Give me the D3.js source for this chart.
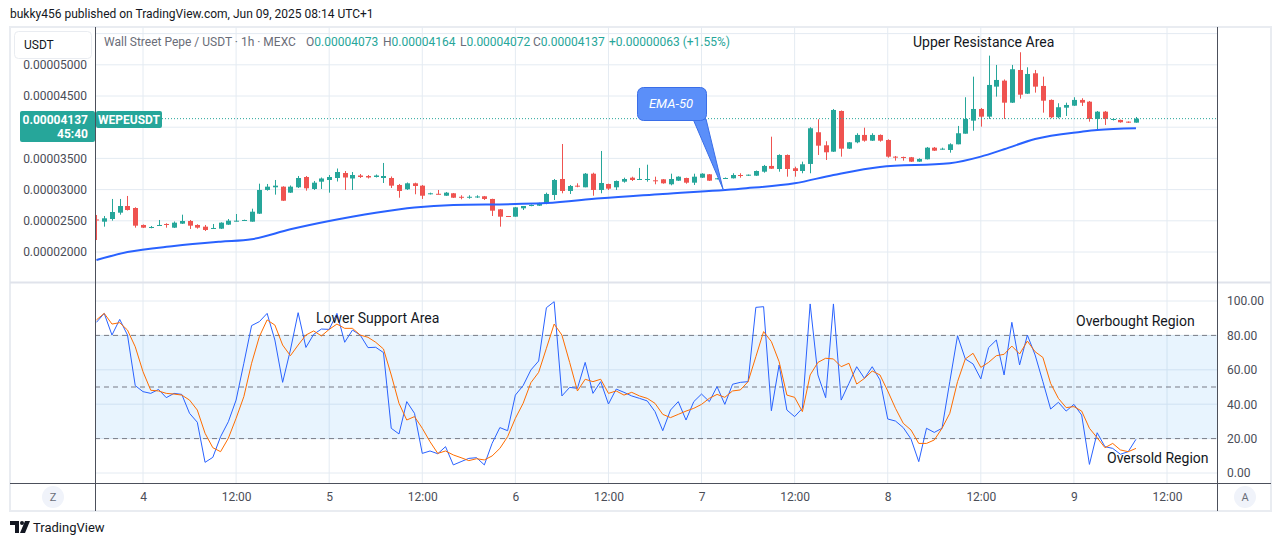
<!DOCTYPE html>
<html>
<head>
<meta charset="utf-8">
<script src="https://cdn.jsdelivr.net/npm/d3@7"></script>
<style>
  html, body { margin: 0; padding: 0; background: #fff; }
  svg { display: block; font-family: Roboto, "Noto Sans", sans-serif; }
</style>
</head>
<body>
<svg id="chart" width="1281" height="546"></svg>
<script>
// hourly candles from Jun 3 18:00, prices in 1e-8 USDT
const startTime = Date.UTC(2025, 5, 3, 18);

const open = [
  2521,2486,2529,2630,2737,2705,2433,2390,2422,2449, 2390,2454,2497,2433,2406,2380,2374,2438,2492,2502,
  2486,2614,2994,3037,3047,2951,3037,3202,3010,3127, 3154,3186,3266,3178,3226,3218,3202,3186,3186,3074,
  3005,3101,3063,2925,2933,2902,2941,2885,2877,2882, 2893,2850,2684,2577,2566,2700,2737,2742,2781,2914,
  3170,2978,3063,3037,3255,2994,3090,3037,3127,3191, 3154,3154,3149,3165,3085,3143,3186,3111,3191,3245,
  3170,3178,3181,3234,3223,3223,3287,3379,3330,3555, 3342,3298,3411,3919,3710,3608,4260,3656,3758,3876,
  3784,3876,3795,3528,3523,3518,3448,3486,3672,3640, 3635,3726,3896,4105,4292,4169,4650,4746,4393,4917,
  4537,4864,4661,4437,4159,4313,4345,4437,4409,4132, 4249,4116,4116,4089,4073
];
const high = [
  2593,2577,2850,2850,2898,2717,2441,2417,2513,2460, 2489,2598,2513,2444,2433,2449,2476,2529,2609,2518,
  2694,3095,3090,3154,3053,3066,3218,3218,3138,3194, 3234,3338,3298,3282,3250,3234,3242,3427,3210,3090,
  3114,3111,3074,2951,2994,2962,2946,2909,2909,2909, 2898,2854,2689,2577,2721,2737,2761,2790,2951,3170,
  3731,3074,3101,3266,3271,3619,3095,3146,3191,3207, 3347,3399,3207,3170,3255,3213,3191,3255,3262,3250,
  3186,3194,3262,3262,3242,3306,3395,3848,3566,3563, 3367,3448,3999,4127,3775,4292,4268,3763,3903,3992,
  3903,3884,3806,3539,3528,3523,3502,3683,3683,3672, 3742,4020,4480,4810,4308,5147,4998,4765,4998,5201,
  4960,4917,4810,4445,4384,4393,4480,4464,4420,4260, 4260,4140,4121,4092,4164
];
const low = [
  2192,2406,2502,2598,2665,2390,2385,2380,2417,2390, 2385,2449,2369,2374,2337,2374,2369,2433,2489,2497,
  2486,2609,2983,2919,2817,2946,3026,2983,2994,3010, 2951,3130,2994,2994,3186,3178,3194,3106,3026,2870,
  2994,2925,2850,2922,2925,2898,2866,2845,2854,2866, 2834,2577,2406,2566,2566,2673,2733,2737,2765,2834,
  2941,2930,3037,3037,2902,2941,2994,2994,3111,3138, 3154,3127,3085,3095,3069,3138,3095,3074,3186,3138,
  3165,3175,3178,3191,3218,3218,3271,3330,3287,3207, 3207,3262,3262,3555,3475,3603,3528,3651,3743,3768,
  3779,3768,3512,3464,3464,3443,3443,3483,3619,3640, 3592,3726,3896,3944,4009,4132,4490,4132,4388,4457,
  4533,4554,4233,4143,4143,4180,4340,4340,4089,3956, 4036,4108,4073,4068,4072
];
const close = [
  2505,2540,2641,2737,2673,2422,2390,2401,2433,2433, 2470,2497,2422,2390,2353,2385,2470,2502,2502,2513,
  2646,2994,3047,3063,2822,3047,3186,3021,3111,3178, 3202,3282,3194,3234,3202,3194,3226,3218,3063,2978,
  3101,3058,2902,2941,2927,2951,2870,2878,2885,2890, 2850,2662,2566,2566,2716,2737,2753,2785,2930,3154,
  2978,3058,3047,3255,2994,3106,3015,3138,3170,3154, 3170,3170,3143,3101,3170,3207,3111,3207,3255,3143,
  3181,3186,3234,3218,3239,3298,3379,3335,3555,3330, 3298,3406,3983,3704,3598,4276,3656,3758,3876,3784,
  3876,3784,3528,3523,3515,3448,3491,3672,3624,3656, 3726,3903,4132,4292,4169,4677,4757,4393,4929,4521,
  4853,4650,4425,4159,4320,4356,4437,4393,4132,4249, 4132,4132,4079,4073,4137
];

// EMA-50 read at a few candles
const emaIdx = [0, 4, 10, 16, 20, 25, 30, 36, 41, 46, 54, 58, 65, 73, 83, 90, 95, 101, 110, 114, 117, 121, 127, 129, 134];
const emaVal = [1872, 2000, 2096, 2165, 2204, 2364, 2497, 2630, 2715, 2755, 2769, 2784, 2861, 2930, 3015, 3101, 3234, 3363, 3422, 3528, 3646, 3811, 3928, 3956, 3983];

const stochK = [
  87.6,92.8,80.2,89.3,80.2,50.8,47.3,46.3,48.6,43.8, 46.3,45.7,34.7,29.5,6.2,9.1,21.1,29.8,42.4,63.8,
  85.7,88,92.8,77.3,52.7,71.5,93.2,73,80.6,83.7, 83.5,92.8,76,83.1,80.2,72.9,73.1,70,26,22.7,
  41.5,34.7,11.4,12.8,11.2,15.3,4.7,6.6,8.5,8.9, 4.7,17.2,26.4,24.6,45.3,50.8,59.9,65.1,96.1,99.6,
  44.8,49.8,49.2,64.3,46.3,53.1,40.1,48.8,46.9,44.8, 43.4,41.9,35.7,24.6,36.6,41.5,30.8,41.5,45.9,41.5,
  50.2,39.9,51.6,52.7,53.1,96.3,96.7,36.2,62.8,36.6, 32.8,37.6,98.3,57,43.8,98.3,42.4,52.1,61.8,55,
  61.8,54.1,31.4,30.2,26.4,19.8,6.6,26,23.6,26, 53.1,79.8,66.3,63.4,54.7,72.9,77.3,57,87.6,62.8,
  80.2,68.6,53.1,37.2,41.1,36,39.9,33.7,5,23.4, 15.3,14.3,10.9,12.4,19.6
];
const stochD = [
  89,92.8,86.6,87.4,83.1,73.4,58.9,48.1,47.7,46.3, 45.9,45.3,42.4,36.6,23.1,14.7,12.4,20.2,31.8,44.4,
  63.8,79.3,89,86,74.4,68.2,74.4,80.2,82.6,79.7, 83.5,86.6,84.1,84.1,80.2,78.9,76,72.1,57,40.5,
  30.8,32.8,26,18.2,11.4,12.8,10.5,8.9,7.2,8.3, 7.6,9.9,14.3,21.1,31.8,40.5,52.5,58.5,72.5,86.6,
  80.2,64.3,47.7,54.5,53.1,54.5,46.3,47.7,45.3,46.9, 44.8,43.4,40.5,34.1,32.2,34.1,36,37.6,39.9,43.4,
  45.7,44,47.7,48.3,53.1,67.6,82.2,76.4,64.7,45.3, 44,35.7,57,64.3,66.7,66.3,61.8,63.8,51.7,55,
  59.3,57,47.7,37.6,28.9,25,17.2,17.2,19.2,26, 34.7,53.1,66.3,69.6,61.4,64.3,68.2,69,73.8,69.2,
  76.7,70.5,67.2,52.1,43.4,38,38.6,36,26,20.5, 14.7,17.2,13.4,12.4,14.3
];

const priceTicks = [2000, 2500, 3000, 3500, 4000, 4500, 5000, 5500];
const priceLabels = [2000, 2500, 3000, 3500, 4500, 5000];
const stochTicks = [0, 20, 40, 60, 80, 100];
const stochLevels = [80, 50, 20];

const UP = '#26a69a', DOWN = '#ef5350', GRID = '#e4ebf2', DARK = '#4c505b', TXT = '#131722';
const L = 95, R = 1217, mainTop = 27, mainBot = 282, stTop = 283, stBot = 483;

const svg = d3.select('#chart');
const t = i => new Date(startTime + i * 36e5);

const x = d3.scaleUtc()
  .domain([Date.UTC(2025, 5, 4, 0), Date.UTC(2025, 5, 9, 12)])
  .range([143, 1167]);
const yP = d3.scaleLinear().domain([2000, 4000]).range([252, 127.2]);
const yS = d3.scaleLinear().domain([0, 100]).range([473, 301]);

const defs = svg.append('defs');
defs.append('clipPath').attr('id', 'clipMain')
  .append('rect').attr('x', L).attr('y', mainTop).attr('width', R - L).attr('height', mainBot - mainTop);
defs.append('clipPath').attr('id', 'clipStoch')
  .append('rect').attr('x', L).attr('y', stTop).attr('width', R - L).attr('height', stBot - stTop);

// header
svg.append('text').attr('x', 10).attr('y', 18).attr('font-size', 12).attr('fill', TXT)
  .text('bukky456 published on TradingView.com, Jun 09, 2025 08:14 UTC+1');

// frame
svg.append('rect').attr('x', 10).attr('y', mainTop).attr('width', 1261).attr('height', 484)
  .attr('fill', 'none').attr('stroke', '#e9ecf1').attr('stroke-width', 2);

// grid
const timeTicks = x.ticks(d3.utcHour.every(12));
svg.append('g').selectAll('line').data(timeTicks).join('line')
  .attr('x1', d => x(d)).attr('x2', d => x(d))
  .attr('y1', mainTop).attr('y2', stBot)
  .attr('stroke', GRID);
svg.append('g').selectAll('line').data(priceTicks).join('line')
  .attr('x1', L).attr('x2', R).attr('y1', d => yP(d)).attr('y2', d => yP(d))
  .attr('stroke', GRID);
svg.append('g').selectAll('line').data(stochTicks).join('line')
  .attr('x1', L).attr('x2', R).attr('y1', d => yS(d)).attr('y2', d => yS(d))
  .attr('stroke', GRID);

// stoch band + levels
svg.append('rect').attr('x', L).attr('width', R - L)
  .attr('y', yS(80)).attr('height', yS(20) - yS(80))
  .attr('fill', 'rgba(33,150,243,0.1)');
svg.append('g').selectAll('line').data(stochLevels).join('line')
  .attr('x1', L).attr('x2', R).attr('y1', d => yS(d)).attr('y2', d => yS(d))
  .attr('stroke', '#787b86').attr('stroke-dasharray', '5,4');

// candles
const idx = d3.range(open.length);
const cg = svg.append('g').attr('clip-path', 'url(#clipMain)');
const candle = cg.selectAll('.candle').data(idx).join('g')
  .attr('class', 'candle')
  .attr('fill', i => close[i] >= open[i] ? UP : DOWN)
  .attr('stroke', i => close[i] >= open[i] ? UP : DOWN);
candle.append('line')
  .attr('x1', i => Math.round(x(t(i))) + 0.5).attr('x2', i => Math.round(x(t(i))) + 0.5)
  .attr('y1', i => yP(high[i])).attr('y2', i => yP(low[i]));
candle.append('rect')
  .attr('stroke', 'none')
  .attr('x', i => Math.round(x(t(i))) - 2)
  .attr('width', 5)
  .attr('y', i => yP(Math.max(open[i], close[i])))
  .attr('height', i => Math.max(1, Math.abs(yP(open[i]) - yP(close[i]))));

// EMA-50
cg.append('path')
  .datum(emaIdx)
  .attr('fill', 'none').attr('stroke', '#2962ff').attr('stroke-width', 2)
  .attr('d', d3.line().curve(d3.curveMonotoneX)
    .x(i => x(t(i))).y((i, k) => yP(emaVal[k])));

// last price line
svg.append('line').attr('x1', 162).attr('x2', R)
  .attr('y1', yP(close[close.length - 1])).attr('y2', yP(close[close.length - 1]))
  .attr('stroke', UP).attr('stroke-dasharray', '1,2');

// stoch lines
const sg = svg.append('g').attr('clip-path', 'url(#clipStoch)');
sg.append('path').datum(stochK)
  .attr('fill', 'none').attr('stroke', '#2962ff').attr('stroke-width', 1)
  .attr('d', d3.line().x((d, i) => x(t(i))).y(d => yS(d)));
sg.append('path').datum(stochD)
  .attr('fill', 'none').attr('stroke', '#ff6d00').attr('stroke-width', 1)
  .attr('d', d3.line().x((d, i) => x(t(i))).y(d => yS(d)));

// axes
const pAxis = svg.append('g').attr('transform', `translate(87,0)`)
  .call(d3.axisLeft(yP).tickValues(priceLabels).tickSize(0).tickPadding(0)
    .tickFormat(d => (d * 1e-8).toFixed(8)));
const sAxis = svg.append('g').attr('transform', `translate(1227,0)`)
  .call(d3.axisRight(yS).tickValues(stochTicks).tickSize(0).tickPadding(0)
    .tickFormat(d3.format('.2f')));
const tAxis = svg.append('g').attr('transform', `translate(0,${stBot})`)
  .call(d3.axisBottom(x).tickValues(timeTicks).tickSize(0).tickPadding(9)
    .tickFormat(d => d.getUTCHours() === 0 ? d.getUTCDate() : '12:00'));
[pAxis, sAxis, tAxis].forEach(a => {
  a.select('.domain').remove();
  a.selectAll('text').attr('font-family', 'Roboto, sans-serif').attr('font-size', 12).attr('fill', '#4a4d57');
});

// pane borders
svg.append('line').attr('x1', 10).attr('x2', 1271).attr('y1', mainBot + 0.5).attr('y2', mainBot + 0.5)
  .attr('stroke', '#e0e3eb').attr('stroke-width', 2);
svg.append('line').attr('x1', 10).attr('x2', 1271).attr('y1', stBot + 0.5).attr('y2', stBot + 0.5)
  .attr('stroke', DARK);
[L, R].forEach(v => svg.append('line').attr('x1', v + 0.5).attr('x2', v + 0.5)
  .attr('y1', mainTop).attr('y2', 511).attr('stroke', DARK));

// USDT button
svg.append('rect').attr('x', 14.5).attr('y', 31.5).attr('width', 77).attr('height', 27).attr('rx', 4)
  .attr('fill', '#fff').attr('stroke', '#e9ecf1');
svg.append('text').attr('x', 24).attr('y', 49).attr('font-size', 12).attr('fill', TXT).text('USDT');

// legend
svg.append('text').attr('x', 104).attr('y', 46).attr('font-size', 12).attr('fill', '#6a6d78')
  .text('Wall Street Pepe / USDT · 1h · MEXC');
const ohlc = [['O', '0.00004073', 306], ['H', '0.00004164', 383], ['L', '0.00004072', 460], ['C', '0.00004137', 533]];
ohlc.forEach(([k, v, px]) => {
  const tx = svg.append('text').attr('x', px).attr('y', 46).attr('font-size', 12);
  tx.append('tspan').attr('fill', '#6a6d78').text(k);
  tx.append('tspan').attr('fill', UP).text(v);
});
svg.append('text').attr('x', 609).attr('y', 46).attr('font-size', 12).attr('fill', UP)
  .text('+0.00000063 (+1.55%)');

// price labels
svg.append('rect').attr('x', 20).attr('y', 111).attr('width', 75).attr('height', 31).attr('rx', 2).attr('fill', UP);
svg.append('text').attr('x', 88).attr('y', 124).attr('text-anchor', 'end').attr('font-size', 12)
  .attr('font-weight', 'bold').attr('fill', '#fff').text('0.00004137');
svg.append('text').attr('x', 88).attr('y', 138).attr('text-anchor', 'end').attr('font-size', 12)
  .attr('font-weight', 'bold').attr('fill', '#fff').text('45:40');
svg.append('rect').attr('x', 96).attr('y', 111).attr('width', 66).attr('height', 17).attr('rx', 2).attr('fill', UP);
svg.append('text').attr('x', 129).attr('y', 124).attr('text-anchor', 'middle').attr('font-size', 12)
  .attr('font-weight', 'bold').attr('fill', '#fff').text('WEPEUSDT');

// EMA-50 callout
svg.append('path').attr('d', 'M693,119 L706,119 L723,189 Z')
  .attr('fill', '#5b8ff9').attr('stroke', '#3a6ee8');
svg.append('rect').attr('x', 637.5).attr('y', 87.5).attr('width', 69).attr('height', 33).attr('rx', 6)
  .attr('fill', '#5b8ff9').attr('stroke', '#3a6ee8');
svg.append('text').attr('x', 671).attr('y', 108).attr('text-anchor', 'middle').attr('font-size', 13)
  .attr('font-style', 'italic').attr('fill', '#fff').text('EMA-50');

// annotations
const notes = [['Upper Resistance Area', 913, 47], ['Lower Support Area', 316, 323],
  ['Overbought Region', 1076, 326], ['Oversold Region', 1107, 463]];
svg.append('g').selectAll('text').data(notes).join('text')
  .attr('x', d => d[1]).attr('y', d => d[2]).attr('font-size', 14).attr('fill', TXT)
  .text(d => d[0]);

// corner buttons
[['Z', 53], ['A', 1245]].forEach(([s, cx]) => {
  svg.append('circle').attr('cx', cx).attr('cy', 497).attr('r', 11).attr('fill', '#f0f3fa');
  svg.append('text').attr('x', cx).attr('y', 501).attr('text-anchor', 'middle')
    .attr('font-size', 11).attr('fill', '#6a6d78').text(s);
});

// footer logo
const logo = svg.append('g').attr('fill', TXT);
logo.append('path').attr('d', 'M10,521 h9 v12 h-4 v-8 h-5 z');
logo.append('circle').attr('cx', 22).attr('cy', 523).attr('r', 2);
logo.append('path').attr('d', 'M25,521 h5 l-5,12 h-5 z');
svg.append('text').attr('x', 33).attr('y', 532).attr('font-size', 13).attr('fill', TXT).text('TradingView');
</script>
</body>
</html>
